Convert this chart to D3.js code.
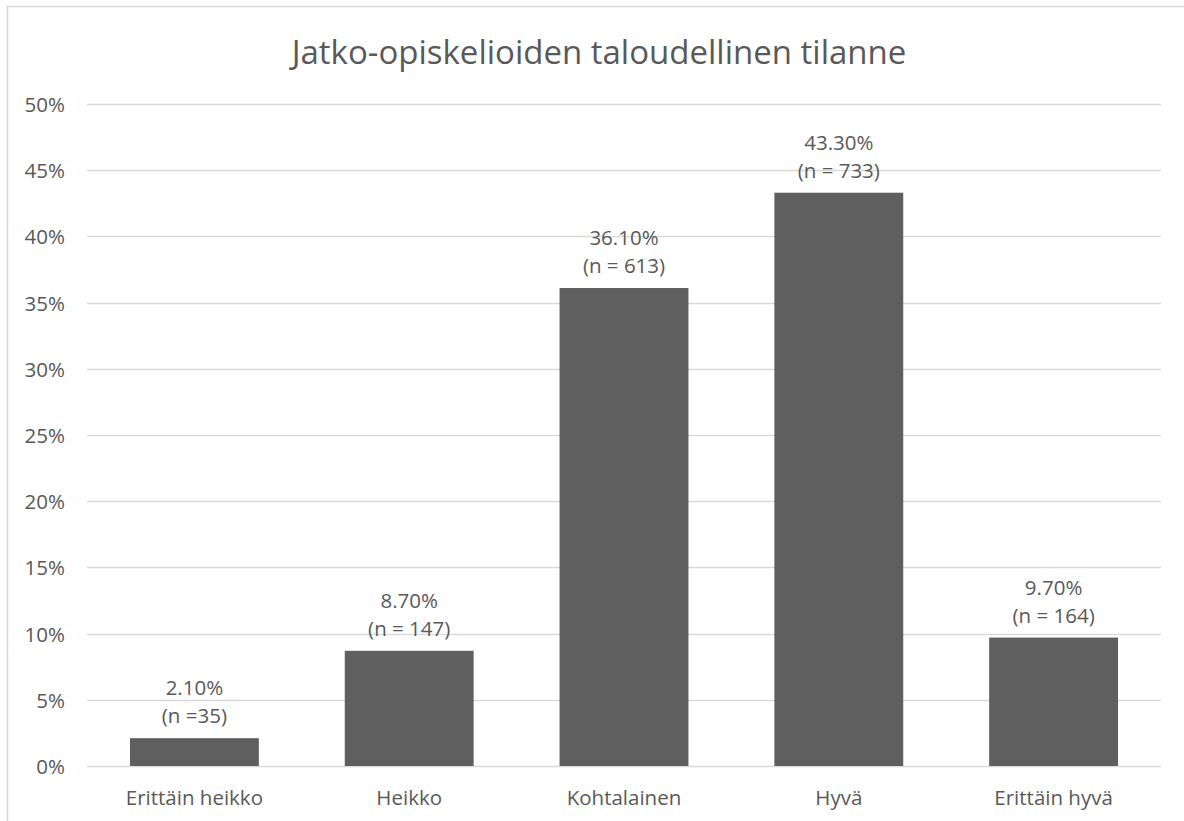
<!DOCTYPE html>
<html>
<head>
<meta charset="utf-8">
<script src="https://cdn.jsdelivr.net/npm/d3@7"></script>
<style>
  body { margin: 0; background: #fff; }
  text { font-family: "Open Sans", "Noto Sans", sans-serif; fill: #595959; }
</style>
</head>
<body>
<div id="chart"></div>
<script>
const categories = ["Erittäin heikko", "Heikko", "Kohtalainen", "Hyvä", "Erittäin hyvä"];
const percents = [2.1, 8.7, 36.1, 43.3, 9.7];
const counts = ["(n =35)", "(n = 147)", "(n = 613)", "(n = 733)", "(n = 164)"];
const yTicks = [0, 5, 10, 15, 20, 25, 30, 35, 40, 45, 50];
const title = "Jatko-opiskelioiden taloudellinen tilanne";

const W = 1184, H = 821;
const margin = { left: 87, right: 23, top: 104, bottom: 55 };

const svg = d3.select("#chart").append("svg")
    .attr("width", W)
    .attr("height", H);

// chart frame (runs off the right and bottom of the picture)
svg.append("rect")
    .attr("x", 7.5).attr("y", 6.5)
    .attr("width", W + 20).attr("height", H + 20)
    .attr("fill", "none")
    .attr("stroke", "#d9d9d9")
    .attr("stroke-width", 1.5);

const x = d3.scaleBand()
    .domain(categories)
    .range([margin.left, W - margin.right])
    .paddingInner(0.4)
    .paddingOuter(0.2);

const y = d3.scaleLinear()
    .domain([0, 50])
    .range([H - margin.bottom, margin.top]);

// gridlines
svg.append("g")
    .selectAll("line")
    .data(yTicks)
    .join("line")
    .attr("x1", margin.left)
    .attr("x2", W - margin.right)
    .attr("y1", d => Math.round(y(d)) + 0.5)
    .attr("y2", d => Math.round(y(d)) + 0.5)
    .attr("stroke", "#d9d9d9")
    .attr("stroke-width", 1.5);

// y tick labels
svg.append("g")
    .selectAll("text")
    .data(yTicks)
    .join("text")
    .attr("x", 65)
    .attr("y", d => y(d))
    .attr("text-anchor", "end")
    .attr("dominant-baseline", "central")
    .style("font-size", "20.5px")
    .text(d => d + "%");

// bars
svg.append("g")
    .selectAll("rect")
    .data(categories)
    .join("rect")
    .attr("x", d => x(d))
    .attr("width", x.bandwidth())
    .attr("y", (d, i) => y(percents[i]))
    .attr("height", (d, i) => y(0) - y(percents[i]))
    .attr("fill", "#5f5f5f");

// data labels
const lab = svg.append("g");
lab.selectAll("text.pct")
    .data(categories)
    .join("text")
    .attr("class", "pct")
    .attr("x", d => x(d) + x.bandwidth() / 2)
    .attr("y", (d, i) => y(percents[i]) - 51)
    .attr("text-anchor", "middle")
    .attr("dominant-baseline", "central")
    .style("font-size", "20.5px")
    .text((d, i) => percents[i].toFixed(2) + "%");

lab.selectAll("text.n")
    .data(categories)
    .join("text")
    .attr("class", "n")
    .attr("x", d => x(d) + x.bandwidth() / 2)
    .attr("y", (d, i) => y(percents[i]) - 23)
    .attr("text-anchor", "middle")
    .attr("dominant-baseline", "central")
    .style("font-size", "20.5px")
    .text((d, i) => counts[i]);

// category labels
svg.append("g")
    .selectAll("text")
    .data(categories)
    .join("text")
    .attr("x", d => x(d) + x.bandwidth() / 2)
    .attr("y", 797)
    .attr("text-anchor", "middle")
    .attr("dominant-baseline", "central")
    .style("font-size", "20.5px")
    .text(d => d);

// title
svg.append("text")
    .attr("x", 599)
    .attr("y", 51)
    .attr("text-anchor", "middle")
    .attr("dominant-baseline", "central")
    .style("font-size", "33px")
    .text(title);
</script>
</body>
</html>
